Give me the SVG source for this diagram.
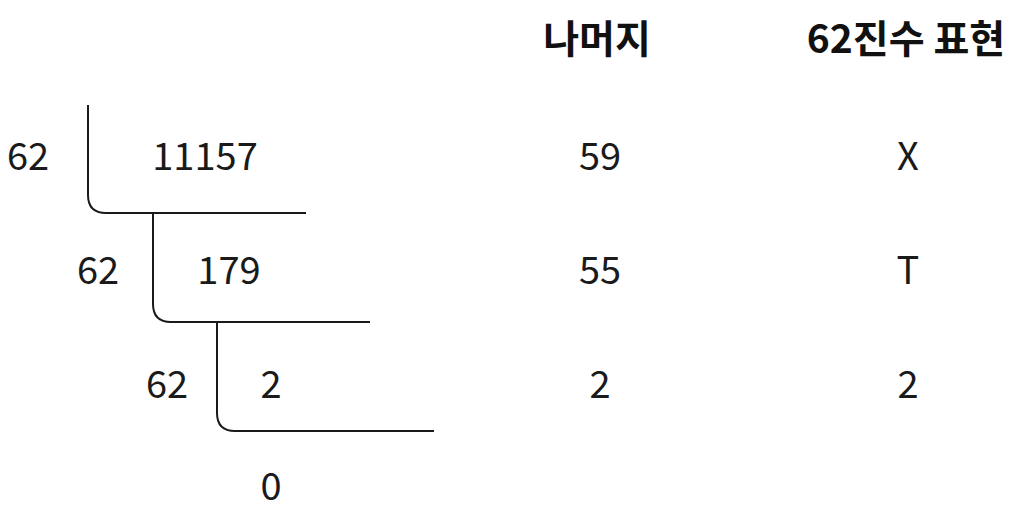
<svg xmlns="http://www.w3.org/2000/svg" width="1021" height="510" viewBox="0 0 1021 510">
<style>
.t{font-family:"Noto Sans CJK KR","Noto Sans",sans-serif;font-size:38px;fill:#1a1a1a;text-anchor:middle}
.h{font-family:"Noto Sans CJK KR","Noto Sans",sans-serif;font-size:39px;font-weight:bold;fill:#111;text-anchor:middle}
.ln{fill:none;stroke:#1a1a1a;stroke-width:2}
</style>
<rect width="1021" height="510" fill="#fff"/>
<g id="headers">
<text class="h" x="597" y="53">나머지</text>
<text class="h" x="906" y="53">62진수 표현</text>
</g>
<g id="connectors">
<path class="ln" d="M88,105 V195 Q88,213 106,213 H306"/>
<path class="ln" d="M153,213 V304 Q153,322 171,322 H370"/>
<path class="ln" d="M217,322 V413 Q217,431 235,431 H434"/>
</g>
<g id="row1">
<text class="t" x="28" y="170">62</text>
<text class="t" x="205" y="170">11157</text>
<text class="t" x="600" y="170">59</text>
<text class="t" x="908" y="170">X</text>
</g>
<g id="row2">
<text class="t" x="98" y="284">62</text>
<text class="t" x="229" y="284">179</text>
<text class="t" x="600" y="284">55</text>
<text class="t" x="908" y="284">T</text>
</g>
<g id="row3">
<text class="t" x="167" y="398">62</text>
<text class="t" x="271" y="398">2</text>
<text class="t" x="600" y="398">2</text>
<text class="t" x="908" y="398">2</text>
</g>
<g id="row4">
<text class="t" x="271" y="500">0</text>
</g>
</svg>
